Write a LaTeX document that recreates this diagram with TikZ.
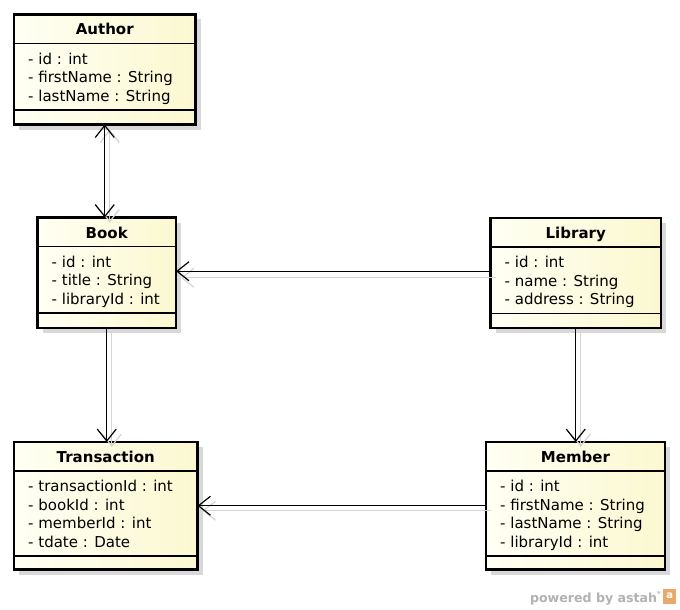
\documentclass[tikz,border=0pt]{standalone}
\usepackage{fontspec}
\setmainfont{DejaVu Sans}
\usetikzlibrary{arrows.meta,shadows,calc}
\definecolor{boxL}{HTML}{FFFFF4}
\definecolor{boxR}{HTML}{FBF8D0}
\definecolor{shadowgray}{HTML}{D8D8D8}
\definecolor{linkshadow}{HTML}{D4D4D4}
\definecolor{astahgray}{HTML}{B2B2B2}
\definecolor{astahorange}{HTML}{E9A96C}
\newcommand{\umlclass}[7]{%
  \node[classbox, minimum width={#4-#2}, minimum height={#5-#3}] (#1) at ({(#2+#4)/2},{(#3+#5)/2}) {};
  \node[titletext] (#1-title) at ({(#2+#4)/2},{#3+20.5}) {#6};
  \draw[divider] ({#2},{#3+29}) -- ({#4},{#3+29});
  \foreach \a [count=\i] in {#7} {
    \node[attrtext] (#1-a\i) at ({#2+14},{#3+49.5+(\i-1)*18.5}) {\a};
    \xdef\lastI{\i}
  }
  \draw[divider] ({#2},{#3+49.5+(\lastI-1)*18.5+9}) -- ({#4},{#3+49.5+(\lastI-1)*18.5+9});
}
\begin{document}
\begin{tikzpicture}[x=1pt,y=-1pt,
  classbox/.style={draw=black, line width=2.8pt, left color=boxL, right color=boxR,
    inner sep=0pt, outer sep=0pt,
    drop shadow={shadow xshift=5pt, shadow yshift=-5pt, fill=shadowgray, opacity=1}},
  titletext/.style={anchor=base, inner sep=0pt, font=\fontsize{15}{18}\selectfont\bfseries},
  attrtext/.style={anchor=base west, inner sep=0pt, font=\fontsize{15}{18}\selectfont},
  divider/.style={line width=1.3pt, black},
  barb/.tip={Straight Barb[length=12pt,width=19pt]},
  assoc/.style={line width=1.2pt, black, -barb},
  assocboth/.style={line width=1.2pt, black, barb-barb},
  linkshadowline/.style={line width=1.2pt, linkshadow, transform canvas={xshift=5pt,yshift=-5pt}},
]
\useasboundingbox[fill=white] (0,0) rectangle (680,610);

\umlclass{author}{14}{14.5}{195.5}{124.5}{Author}{- id : int, - firstName : String, - lastName : String}
\umlclass{book}{37.5}{217.5}{176}{328}{Book}{- id : int, - title : String, - libraryId : int}
\umlclass{library}{490.5}{218}{661}{328}{Library}{- id : int, - name : String, - address : String}
\umlclass{transaction}{14}{442}{197.5}{569.5}{Transaction}{- transactionId : int, - bookId : int, - memberId : int, - tdate : Date}
\umlclass{member}{486}{442}{665}{569.5}{Member}{- id : int, - firstName : String, - lastName : String, - libraryId : int}

% connector shadows
\draw[linkshadowline, barb-barb] (author.south) -- (author.south |- book.north);
\draw[linkshadowline, -barb] (library.west |- book.east) -- (book.east);
\draw[linkshadowline, -barb] (book.south) -- (book.south |- transaction.north);
\draw[linkshadowline, -barb] (library.south) -- (library.south |- member.north);
\draw[linkshadowline, -barb] (member.west |- transaction.east) -- (transaction.east);

% connectors
\draw[assocboth] (author.south) -- (author.south |- book.north);
\draw[assoc] ([yshift=1.5pt]library.west |- book.east) -- ([yshift=1.5pt]book.east);
\draw[assoc] (book.south) -- (book.south |- transaction.north);
\draw[assoc] (library.south) -- (library.south |- member.north);
\draw[assoc] (member.west |- transaction.east) -- (transaction.east);

% powered by astah
\node[anchor=base east, inner sep=0pt, text=astahgray, font=\fontsize{12.6}{14}\selectfont\bfseries] (powered) at (661,602) {powered by astah\raisebox{0.45em}{\fontsize{7}{8}\selectfont*}};
\node[anchor=west, inner sep=0pt, minimum width=13pt, minimum height=15pt, fill=astahorange, text=white, font=\fontsize{10}{10}\selectfont\bfseries] (logo) at ([xshift=2pt]powered.east |- 0,596) {a};
\end{tikzpicture}
\end{document}
